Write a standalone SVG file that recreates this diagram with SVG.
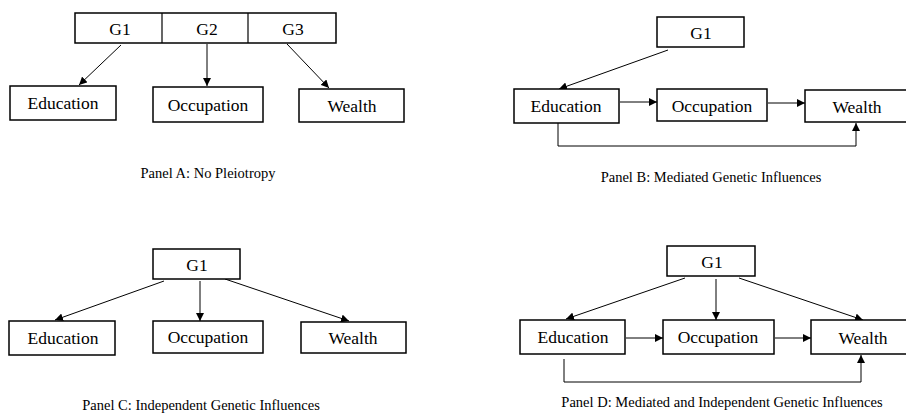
<svg xmlns="http://www.w3.org/2000/svg" width="906" height="413" viewBox="0 0 906 413">
<defs>
<marker id="ah" viewBox="0 0 10 10" refX="10" refY="5" markerWidth="8" markerHeight="8" markerUnits="userSpaceOnUse" orient="auto">
<path d="M0,0 L10,5 L0,10 z" fill="#000"/>
</marker>
<style>
.box{fill:#fff;stroke:#000;stroke-width:1.5}
text{font-family:'Liberation Serif','DejaVu Serif',serif;fill:#000;text-anchor:middle}
.t{font-size:17.5px}
.cap{font-size:14.5px}
.c{fill:none;stroke:#000;stroke-width:1;marker-end:url(#ah)}
.p{fill:none;stroke:#000;stroke-width:1.2}
</style>
</defs>
<rect width="906" height="413" fill="#fff"/>

<g id="connectors">
<path class="c" d="M121,45 L79,85"/>
<path class="c" d="M207,44 L207,86"/>
<path class="c" d="M287,44 L329,88"/>
<path class="c" d="M668,50 L559,89"/>
<path class="c" d="M620,102 L657,102"/>
<path class="c" d="M768,103 L805,103"/>
<path class="c" d="M558,123 L558,146 L856,146 L856,123"/>
<path class="c" d="M164,281 L55,320"/>
<path class="c" d="M200,281 L200,321"/>
<path class="c" d="M225,279 L349,321"/>
<path class="c" d="M685,278 L566,319"/>
<path class="c" d="M716,279 L716,320"/>
<path class="c" d="M739,278 L863,320"/>
<path class="c" d="M626,338 L663,338"/>
<path class="c" d="M775,338 L811,338"/>
<path class="c" d="M564,359 L564,382 L861,382 L861,355"/>
</g>

<g id="A_G">
<rect class="box" x="75" y="13" width="261" height="30"/>
<line class="p" x1="162" y1="13" x2="162" y2="43"/>
<line class="p" x1="248" y1="13" x2="248" y2="43"/>
<text class="t" x="120" y="35" font-family="Liberation Serif, serif">G1</text>
<text class="t" x="207" y="35" font-family="Liberation Serif, serif">G2</text>
<text class="t" x="293" y="35" font-family="Liberation Serif, serif">G3</text>
</g>
<g id="A_edu"><rect class="box" x="10" y="86" width="106" height="34"/><text class="t" x="63" y="109">Education</text></g>
<g id="A_occ"><rect class="box" x="153" y="87" width="110" height="35"/><text class="t" x="208" y="111">Occupation</text></g>
<g id="A_wea"><rect class="box" x="299" y="89" width="105" height="33"/><text class="t" x="352" y="112">Wealth</text></g>
<text class="cap" x="208" y="178">Panel A: No Pleiotropy</text>

<g id="B_G1"><rect class="box" x="657" y="17" width="87" height="30"/><text class="t" x="701" y="39">G1</text></g>
<g id="B_edu"><rect class="box" x="514" y="89" width="105" height="34"/><text class="t" x="566" y="112">Education</text></g>
<g id="B_occ"><rect class="box" x="657" y="89" width="110" height="32"/><text class="t" x="712" y="112">Occupation</text></g>
<g id="B_wea"><rect class="box" x="805" y="90" width="110" height="32"/><text class="t" x="857" y="113">Wealth</text></g>
<text class="cap" x="711" y="182">Panel B: Mediated Genetic Influences</text>

<g id="C_G1"><rect class="box" x="153" y="249" width="87" height="30"/><text class="t" x="197" y="271">G1</text></g>
<g id="C_edu"><rect class="box" x="9" y="321" width="106" height="34"/><text class="t" x="63" y="344">Education</text></g>
<g id="C_occ"><rect class="box" x="153" y="321" width="110" height="32"/><text class="t" x="208" y="343">Occupation</text></g>
<g id="C_wea"><rect class="box" x="301" y="322" width="105" height="31"/><text class="t" x="353" y="344">Wealth</text></g>
<text class="cap" x="201" y="410">Panel C: Independent Genetic Influences</text>

<g id="D_G1"><rect class="box" x="667" y="246" width="88" height="30"/><text class="t" x="712" y="268">G1</text></g>
<g id="D_edu"><rect class="box" x="520" y="320" width="105" height="34"/><text class="t" x="573" y="343">Education</text></g>
<g id="D_occ"><rect class="box" x="663" y="320" width="111" height="34"/><text class="t" x="718" y="343">Occupation</text></g>
<g id="D_wea"><rect class="box" x="811" y="320" width="110" height="34"/><text class="t" x="863" y="344">Wealth</text></g>
<text class="cap" x="722" y="407">Panel D: Mediated and Independent Genetic Influences</text>
</svg>
